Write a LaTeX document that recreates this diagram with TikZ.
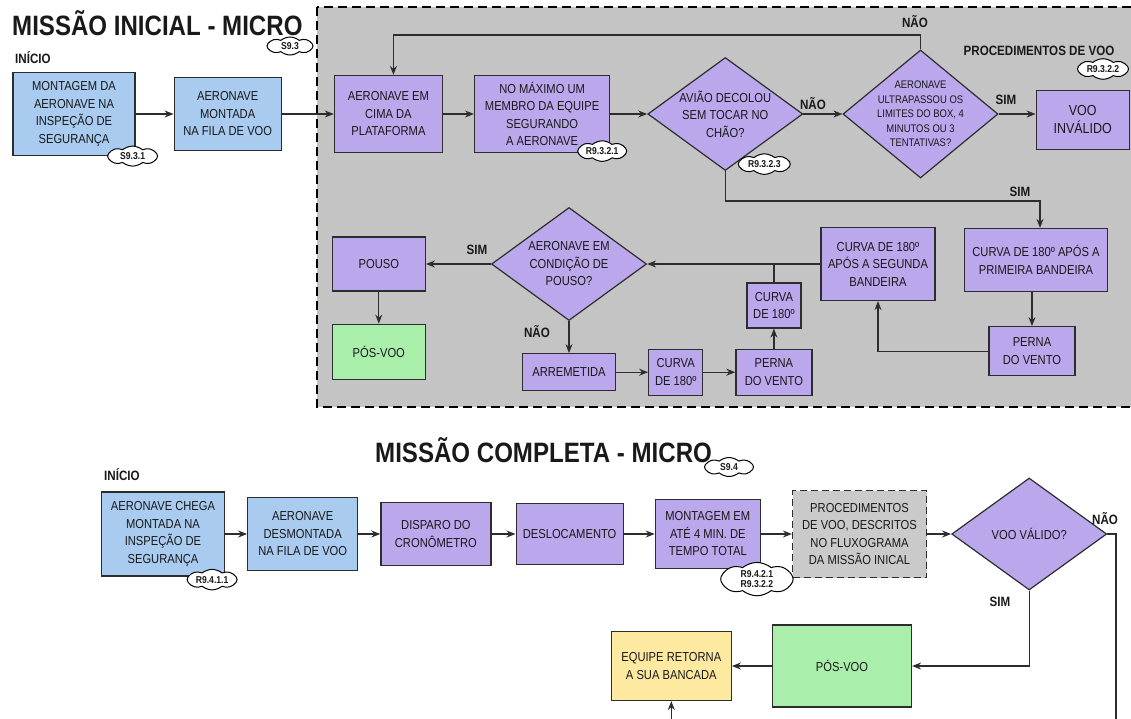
\documentclass[tikz,border=0pt]{standalone}
\usepackage{fontspec}
\setmainfont{Liberation Sans}[FakeStretch=0.86]
\usetikzlibrary{positioning,arrows.meta,shapes.geometric,shapes.symbols}
\definecolor{flowBlue}{RGB}{168,203,239}
\definecolor{flowPurple}{RGB}{187,167,236}
\definecolor{flowGreen}{RGB}{169,238,170}
\definecolor{flowYellow}{RGB}{254,233,161}
\definecolor{flowGray}{RGB}{196,196,196}
\definecolor{flowEdge}{RGB}{45,45,45}
\definecolor{flowInk}{RGB}{25,25,25}

\begin{document}
\begin{tikzpicture}[x=1pt,y=-1pt,font=\fontsize{13}{17.5}\selectfont,text=flowInk,
    sz/.style 2 args={minimum width=#1pt,minimum height=#2pt},
    box/.style={draw=flowEdge,line width=1.2pt,align=center,inner sep=1pt},
    bluebox/.style={box,fill=flowBlue},
    purplebox/.style={box,fill=flowPurple},
    greenbox/.style={box,fill=flowGreen},
    yellowbox/.style={box,fill=flowYellow},
    dashbox/.style={box,fill=flowGray!90!white,dash pattern=on 7pt off 4pt},
    decision/.style={diamond,aspect=1.3,draw=flowEdge,line width=1.2pt,fill=flowPurple,align=center,inner sep=-6pt},
    tag/.style={cloud,cloud puffs=8,cloud puff arc=80,aspect=3,draw=black,line width=1pt,fill=white,
      inner sep=0pt,align=center,font=\fontsize{10}{10.5}\selectfont\bfseries},
    lbl/.style={font=\fontsize{13.5}{15}\selectfont\bfseries,inner sep=0pt},
    heading/.style={font=\fontsize{28}{30}\selectfont\bfseries,inner sep=0pt,anchor=base west},
    flow/.style={-{Stealth[length=9pt,width=7pt]},draw=flowEdge,line width=1.3pt},
    link/.style={draw=flowEdge,line width=1.3pt}]
  \useasboundingbox (0,0) rectangle (1131,718);

  % first mission: gray frame
  \draw[fill=flowGray,line width=1.6pt,dash pattern=on 9pt off 5pt] (317,7) rectangle (1136,407);

  \node[heading] (t1) at (12,35) {MISSÃO INICIAL - MICRO};
  \node[lbl,anchor=base west] (ini1) at (15,63) {INÍCIO};

  \node[bluebox,sz={122}{83}] (a1) at (74,114) {MONTAGEM DA\\AERONAVE NA\\INSPEÇÃO DE\\SEGURANÇA};
  \node[bluebox,sz={107}{73},right=38pt of a1] (a2) {AERONAVE\\MONTADA\\NA FILA DE VOO};
  \node[purplebox,sz={108}{77},right=52pt of a2] (b1) {AERONAVE EM\\CIMA DA\\PLATAFORMA};
  \node[purplebox,sz={135}{77},right=31pt of b1] (b2) {NO MÁXIMO UM\\MEMBRO DA EQUIPE\\SEGURANDO\\A AERONAVE};
  \node[decision,sz={155}{113},right=37pt of b2] (d1) {AVIÃO DECOLOU\\SEM TOCAR NO\\CHÃO?};
  \node[decision,sz={155}{128},right=39pt of d1,font=\fontsize{11}{14.5}\selectfont] (d2) {AERONAVE\\ULTRAPASSOU OS\\LIMITES DO BOX, 4\\MINUTOS OU 3\\TENTATIVAS?};
  \node[purplebox,sz={93}{59},right=37pt of d2,yshift=-6pt,font=\fontsize{14.5}{18}\selectfont] (v1) {VOO\\INVÁLIDO};

  \node[decision,sz={155}{113}] (d3) at (569,264) {AERONAVE EM\\CONDIÇÃO DE\\POUSO?};
  \node[purplebox,sz={93}{54},left=65pt of d3] (pouso) {POUSO};
  \node[greenbox,sz={93}{55},below=32pt of pouso] (pos1) {PÓS-VOO};
  \node[purplebox,sz={93}{37},below=32pt of d3] (arr) {ARREMETIDA};
  \node[purplebox,sz={54}{46},right=32pt of arr] (cv1) {CURVA\\DE 180º};
  \node[purplebox,sz={76}{46},right=32pt of cv1] (pv1) {PERNA\\DO VENTO};
  \node[purplebox,sz={54}{45},above=20pt of pv1] (cv2) {CURVA\\DE 180º};
  \node[purplebox,sz={114}{73}] (cv3) at (878,264) {CURVA DE 180º\\APÓS A SEGUNDA\\BANDEIRA};
  \node[purplebox,sz={143}{63}] (cv4) at (1036,260) {CURVA DE 180º APÓS A\\PRIMEIRA BANDEIRA};
  \node[purplebox,sz={86}{49},below=34pt of cv4,xshift=-4pt] (pv2) {PERNA\\DO VENTO};

  \coordinate (loopT) at (600,35);
  \coordinate (loopS) at (900,201);
  \draw[flow] (a1) -- (a2);
  \draw[flow] (a2) -- (b1);
  \draw[flow] (b1) -- (b2);
  \draw[flow] (b2) -- (d1);
  \draw[flow] (d1) -- (d2);
  \draw[flow] (d2.east) -- (d2.east -| v1.west);
  \draw[flow] (d2.north) |- (loopT) -| ([xshift=5pt]b1.north);
  \draw[flow] (d1.south) |- (loopS) -| ([xshift=4pt]cv4.north);
  \draw[flow] (cv4.south -| pv2.north) -- (pv2.north);
  \draw[flow] (pv2.west) -| (cv3.south);
  \draw[flow] (cv3.west) -- (d3.east);
  \draw[link] (cv2.north) -- (cv2.north |- cv3.west);
  \draw[flow] (pv1) -- (cv2);
  \draw[flow] (d3.west) -- (pouso.east);
  \draw[flow] (pouso) -- (pos1);
  \draw[flow] (d3) -- (arr);
  \draw[flow] (arr) -- (cv1);
  \draw[flow] (cv1) -- (pv1);

  \node[lbl] (nao1) at (813,104) {NÃO};
  \node[lbl] (sim1) at (1006,100) {SIM};
  \node[lbl] (nao2) at (915,22) {NÃO};
  \node[lbl] (proc) at (1039,51) {PROCEDIMENTOS DE VOO};
  \node[lbl] (sim2) at (1020,192) {SIM};
  \node[lbl] (sim3) at (477,250) {SIM};
  \node[lbl] (nao3) at (537,332) {NÃO};

  \node[tag,sz={46}{18}] (s93) at (290,46) {S9.3};
  \node[tag,sz={50}{20}] (s931) at ([shift={(-3,0)}]a1.south east) {S9.3.1};
  \node[tag,sz={49}{17}] (r9321) at ([shift={(-8,-2)}]b2.south east) {R9.3.2.1};
  \node[tag,sz={52}{16}] (r9323) at ([shift={(39,-7)}]d1.south) {R9.3.2.3};
  \node[tag,sz={51}{16}] (r9322) at (1103,69) {R9.3.2.2};

  % second mission
  \node[heading] (t2) at (375,462) {MISSÃO COMPLETA - MICRO};
  \node[lbl,anchor=base west] (ini2) at (104,480) {INÍCIO};
  \node[bluebox,sz={123}{84}] (e1) at (163,534) {AERONAVE CHEGA\\MONTADA NA\\INSPEÇÃO DE\\SEGURANÇA};
  \node[bluebox,sz={110}{73},right=22pt of e1] (e2) {AERONAVE\\DESMONTADA\\NA FILA DE VOO};
  \node[purplebox,sz={110}{63},right=22pt of e2] (e3) {DISPARO DO\\CRONÔMETRO};
  \node[purplebox,sz={107}{61},right=24pt of e3] (e4) {DESLOCAMENTO};
  \node[purplebox,sz={105}{69},right=31pt of e4] (e5) {MONTAGEM EM\\ATÉ 4 MIN. DE\\TEMPO TOTAL};
  \node[dashbox,sz={134}{87},right=31pt of e5] (e6) {PROCEDIMENTOS\\DE VOO, DESCRITOS\\NO FLUXOGRAMA\\DA MISSÃO INICAL};
  \node[decision,sz={155}{112},right=24pt of e6] (d4) {VOO VÁLIDO?};
  \node[greenbox,sz={139}{82}] (pos2) at (842,666) {PÓS-VOO};
  \node[yellowbox,sz={120}{69},left=40pt of pos2] (ret) {EQUIPE RETORNA\\A SUA BANCADA};

  \coordinate (backR) at (1116,722);
  \draw[flow] (e1) -- (e2);
  \draw[flow] (e2) -- (e3);
  \draw[flow] (e3) -- (e4);
  \draw[flow] (e4) -- (e5);
  \draw[flow] (e5) -- (e6);
  \draw[flow] (e6) -- (d4);
  \draw[flow] (d4.south) |- (pos2.east);
  \draw[flow] (pos2) -- (ret);
  \draw[flow] (d4.east) -| (backR) -| (ret.south);

  \node[lbl] (nao4) at (1105,519) {NÃO};
  \node[lbl] (sim4) at (1000,602) {SIM};

  \node[tag,sz={49}{19}] (s94) at (729,467) {S9.4};
  \node[tag,sz={50}{17}] (r9411) at ([shift={(-13,3)}]e1.south east) {R9.4.1.1};
  \node[tag,sz={47}{31}] (r9421) at ([shift={(-4,10)}]e5.south east) {R9.4.2.1\\R9.3.2.2};
\end{tikzpicture}
\end{document}
